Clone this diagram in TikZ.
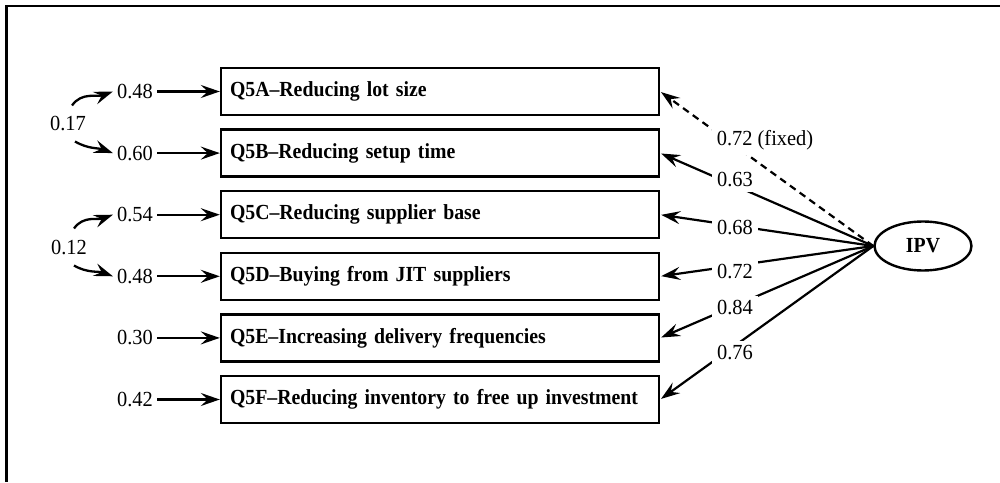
\documentclass[tikz,border=0pt]{standalone}
\usepackage{fontspec}
\setmainfont[FakeStretch=0.95, BoldFeatures={FakeStretch=0.92}]{Liberation Serif}
\usetikzlibrary{arrows.meta,shapes.geometric}

\tikzset{
  x=1pt, y=1pt,
  every node/.style={font=\fontsize{21.5}{25}\selectfont},
  item/.style={draw, line width=2.4pt, minimum height=47pt, text width=420pt,
    inner xsep=9pt, align=left, font=\fontsize{21.5}{25}\selectfont\bfseries},
  latent/.style={draw, ellipse, line width=2.4pt, minimum width=97pt, minimum height=49pt,
    inner sep=0pt, font=\fontsize{21.5}{25}\selectfont\bfseries},
  num/.style={inner sep=4pt},
  coef/.style={fill=white, inner sep=5pt},
  tip/.style={-{Stealth[length=19pt,width=13pt,inset=7pt]}},
  arr/.style={tip, line width=2.3pt},
  cov/.style={tip, line width=2.3pt},
  load/.style={tip, line width=2.2pt, shorten >=1pt},
  fixedload/.style={load, dash pattern=on 7pt off 5pt}
}

\begin{document}
\begin{tikzpicture}
\useasboundingbox (0,0) rectangle (1000,482);

% outer frame (top and left edges)
\draw[line width=2.2pt] (1000,476) -- (6.5,476) -- (6.5,0);

% indicator boxes
\node[item] (a) at (440,390.5) {Q5A–Reducing lot size};
\node[item] (b) at (440,328.9) {Q5B–Reducing setup time};
\node[item] (c) at (440,267.3) {Q5C–Reducing supplier base};
\node[item] (d) at (440,205.7) {Q5D–Buying from JIT suppliers};
\node[item] (e) at (440,144.1) {Q5E–Increasing delivery frequencies};
\node[item] (f) at (440,82.5)  {Q5F–Reducing inventory to free up investment};

% error variances
\node[num] (ea) at (135,390.5) {0.48};
\node[num] (eb) at (135,328.9) {0.60};
\node[num] (ec) at (135,267.3) {0.54};
\node[num] (ed) at (135,205.7) {0.48};
\node[num] (ee) at (135,144.1) {0.30};
\node[num] (ef) at (135,82.5)  {0.42};

\foreach \s/\t in {ea/a, eb/b, ec/c, ed/d, ee/e, ef/f}
  \draw[arr] (\s.east) -- (\t.west);

% error covariances
\node[num] (c1) at (68,358) {0.17};
\node[num] (c2) at (69,234) {0.12};
\draw[cov] ([shift={(4pt,7pt)}]c1.north) to[out=55,in=200] (ea.west);
\draw[cov] ([shift={(7pt,-6pt)}]c1.south) to[out=-30,in=160] (eb.west);
\draw[cov] ([shift={(5pt,8pt)}]c2.north) to[out=55,in=200] (ec.west);
\draw[cov] ([shift={(5pt,-6pt)}]c2.south) to[out=-30,in=160] (ed.west);

% latent factor and loadings
\node[latent] (ipv) at (923,236) {IPV};
\draw[fixedload] (ipv.west) -- (a.east);
\draw[load] (ipv.west) -- (b.east);
\draw[load] (ipv.west) -- (c.east);
\draw[load] (ipv.west) -- (d.east);
\draw[load] (ipv.west) -- (e.east);
\draw[load] (ipv.west) -- (f.east);

% loading values
\node[coef] (la) at (765,342) {0.72 (fixed)};
\node[coef] (lb) at (735,302) {0.63};
\node[coef] (lc) at (735,254) {0.68};
\node[coef] (ld) at (735,210) {0.72};
\node[coef] (le) at (735,174) {0.84};
\node[coef] (lf) at (735,129) {0.76};
\end{tikzpicture}
\end{document}
